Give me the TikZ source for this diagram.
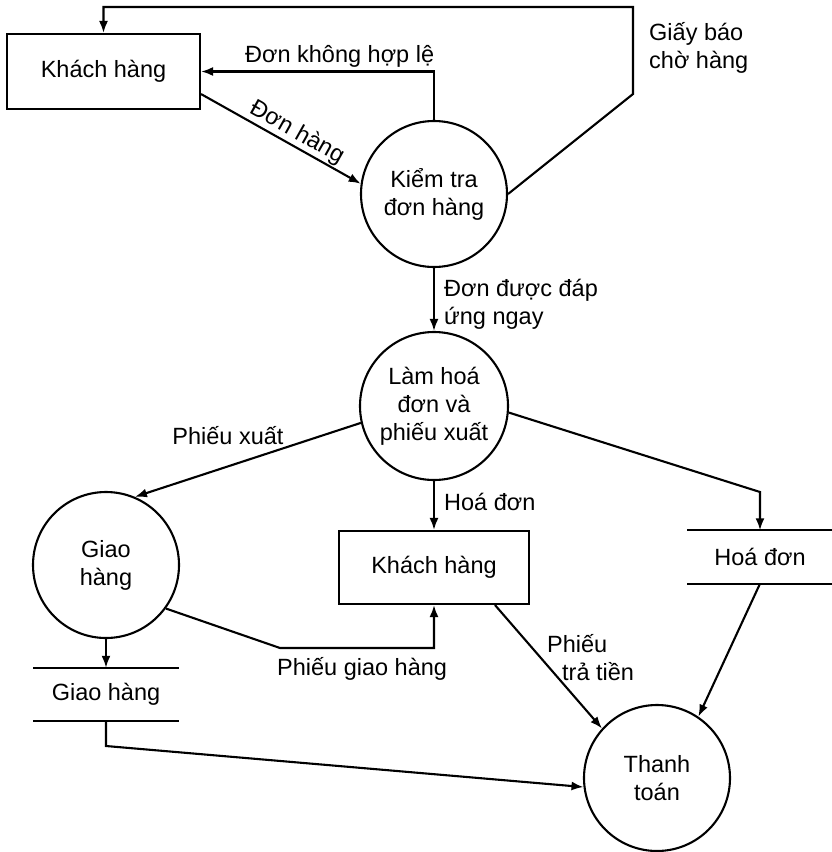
\documentclass[tikz,border=0pt]{standalone}
\usepackage{fontspec}
\setmainfont{Liberation Sans}
\usetikzlibrary{arrows.meta,calc}
\begin{document}
\begin{tikzpicture}[x=1pt,y=-1pt,
  every node/.style={font=\fontsize{23.5}{28}\selectfont},
  flow/.style={draw,line width=2.1pt,-{Latex[length=12pt,width=9pt]}},
  proc/.style={circle,draw,line width=2.1pt,minimum size=146pt,inner sep=0pt,align=center},
  entity/.style={rectangle,draw,line width=2.1pt,inner sep=0pt},
  store/.style={rectangle,minimum width=145pt,minimum height=53pt,inner sep=0pt},
  storeline/.style={line width=2.1pt},
  lbl/.style={inner sep=0pt,align=left}
]
\useasboundingbox (0,0) rectangle (831,852);

% processes
\node[proc] (kt) at (434,194) {Kiểm tra\\đơn hàng};
\node[proc,minimum size=148pt] (lh) at (434,406) {Làm hoá\\đơn và\\phiếu xuất};
\node[proc] (gh) at (106,565) {Giao\\hàng};
\node[proc] (tt) at (657,778) {Thanh\\toán};

% external entities
\node[entity,minimum width=193pt,minimum height=75pt] (kh1) at (103.5,71.5) {Khách hàng};
\node[entity,minimum width=190pt,minimum height=73pt] (kh2) at (434,567.5) {Khách hàng};

% data stores
\node[store] (gs) at (106,694.5) {Giao hàng};
\node[store] (hd) at (760,557) {Hoá đơn};
\draw[storeline] (gs.north west) -- (gs.north east) (gs.south west) -- (gs.south east);
\draw[storeline] (hd.north west) -- (hd.north east) (hd.south west) -- (hd.south east);

% bend points
\coordinate (gb1) at (633,94);
\coordinate (gb2) at (633,7);
\coordinate (hd1) at (760,492);
\coordinate (pg1) at (280,648);
\coordinate (gs1) at (106,746);

% flows
\draw[flow] (kt.north) |- (kh1.east);
\node[lbl,anchor=base west] (l1) at (245,62) {Đơn không hợp lệ};

\draw[flow] ([yshift=16pt]kh1.south east) -- node[inner sep=1pt,sloped,above,pos=0.56] (l2) {Đơn hàng} (kt.172);

\draw[flow] (kt.east) -- (gb1) -- (gb2) -| (kh1.north);
\node[lbl,anchor=west] (l3) at (649,48) {Giấy báo\\chờ hàng};

\draw[flow] (kt.south) -- (lh.north);
\node[lbl,anchor=west] (l4) at (444,304) {Đơn được đáp\\ứng ngay};

\draw[flow] (lh.193) -- (gh.67);
\node[lbl] (l5) at (228,436) {Phiếu xuất};

\draw[flow] (lh.south) -- (kh2.north);
\node[lbl,anchor=base west] (l6) at (444,510) {Hoá đơn};

\draw[flow] (lh.-5) -- (hd1) -- (hd.north);

\draw[flow] (gh.south) -- (gs.north);

\draw[flow] (gh.-36) -- (pg1) -| (kh2.south);
\node[lbl,anchor=base west] (l7) at (277,675) {Phiếu giao hàng};

\draw[flow] (gs.south) -- (gs1) -- (tt.187);

\draw[flow] ([xshift=61pt]kh2.south) -- (tt.138);
\node[lbl,anchor=west] (l8) at (547,658) {Phiếu\\\hspace*{15pt}trả tiền};

\draw[flow] (hd.south) -- (tt.56);
\end{tikzpicture}
\end{document}
